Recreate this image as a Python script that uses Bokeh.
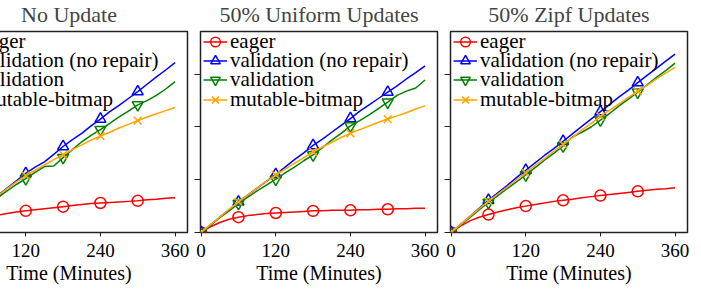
from bokeh.plotting import figure
from bokeh.layouts import row
from bokeh.models import Legend, LegendItem, FixedTicker, Range1d
from bokeh.embed import file_html
from bokeh.resources import INLINE

# ---------------- data ----------------
minutes = [0, 15, 30, 45, 60, 75, 90, 105, 120, 135, 150, 165, 180,
           195, 210, 225, 240, 255, 270, 285, 300, 315, 330, 345, 360]
marker_minutes = [0, 60, 120, 180, 240, 300]

titles = ["No Update", "50% Uniform Updates", "50% Zipf Updates"]
series_names = ["eager", "validation (no repair)", "validation", "mutable-bitmap"]

# No Update
nu_eager = [0, 0.08, 0.15, 0.21, 0.29, 0.33, 0.36, 0.39, 0.41, 0.43, 0.45, 0.47, 0.49,
            0.51, 0.53, 0.55, 0.56, 0.57, 0.58, 0.59, 0.60, 0.62, 0.63, 0.65, 0.66]
nu_valid_norepair = [0, 0.14, 0.28, 0.42, 0.56, 0.70, 0.84, 0.98, 1.12, 1.24, 1.34, 1.48, 1.63,
                     1.76, 1.88, 2.02, 2.15, 2.29, 2.41, 2.54, 2.67, 2.81, 2.95, 3.08, 3.22]
nu_valid = [0, 0.13, 0.26, 0.39, 0.52, 0.66, 0.79, 0.91, 1.02, 1.14, 1.25, 1.26, 1.42,
            1.57, 1.72, 1.84, 1.95, 2.07, 2.19, 2.30, 2.42, 2.50, 2.60, 2.72, 2.86]
nu_bitmap = [0, 0.15, 0.29, 0.43, 0.57, 0.70, 0.83, 0.96, 1.08, 1.18, 1.28, 1.38, 1.47,
             1.57, 1.66, 1.75, 1.83, 1.90, 1.98, 2.05, 2.12, 2.19, 2.25, 2.31, 2.37]

# 50% Uniform Updates
un_eager = [0, 0.11, 0.19, 0.25, 0.29, 0.32, 0.34, 0.36, 0.37, 0.38, 0.39, 0.40, 0.41,
            0.41, 0.42, 0.42, 0.42, 0.43, 0.43, 0.44, 0.44, 0.45, 0.45, 0.46, 0.46]
un_valid_norepair = [0, 0.14, 0.29, 0.43, 0.58, 0.71, 0.84, 0.97, 1.10, 1.24, 1.38, 1.51, 1.65,
                     1.77, 1.90, 2.03, 2.16, 2.30, 2.42, 2.54, 2.66, 2.78, 2.91, 3.03, 3.16]
un_valid = [0, 0.14, 0.28, 0.41, 0.55, 0.67, 0.79, 0.90, 1.01, 1.13, 1.24, 1.36, 1.47,
            1.61, 1.75, 1.88, 2.02, 2.12, 2.23, 2.35, 2.47, 2.60, 2.68, 2.74, 2.89]
un_bitmap = [0, 0.15, 0.29, 0.44, 0.58, 0.71, 0.84, 0.97, 1.09, 1.20, 1.31, 1.42, 1.53,
             1.62, 1.71, 1.80, 1.88, 1.95, 2.02, 2.09, 2.15, 2.21, 2.27, 2.34, 2.40]

# 50% Zipf Updates
zf_eager = [0, 0.12, 0.22, 0.29, 0.34, 0.39, 0.43, 0.47, 0.50, 0.53, 0.56, 0.59, 0.61,
            0.63, 0.66, 0.68, 0.70, 0.72, 0.74, 0.76, 0.78, 0.80, 0.82, 0.83, 0.85]
zf_valid_norepair = [0, 0.15, 0.30, 0.46, 0.61, 0.75, 0.89, 1.04, 1.18, 1.32, 1.46, 1.59, 1.73,
                     1.87, 2.01, 2.15, 2.29, 2.43, 2.57, 2.70, 2.84, 2.98, 3.11, 3.25, 3.38]
zf_valid = [0, 0.14, 0.28, 0.43, 0.57, 0.70, 0.83, 0.96, 1.09, 1.23, 1.37, 1.50, 1.64,
            1.81, 1.90, 2.00, 2.13, 2.26, 2.40, 2.53, 2.66, 2.80, 2.94, 3.07, 3.21]
zf_bitmap = [0, 0.15, 0.30, 0.45, 0.59, 0.73, 0.86, 1.00, 1.13, 1.27, 1.40, 1.54, 1.67,
             1.80, 1.94, 2.07, 2.20, 2.32, 2.44, 2.56, 2.68, 2.79, 2.91, 3.02, 3.13]

x_ticks = [0, 120, 240, 360]
y_ticks = [0, 1, 2, 3]

panels = [
    [nu_eager, nu_valid_norepair, nu_valid, nu_bitmap],
    [un_eager, un_valid_norepair, un_valid, un_bitmap],
    [zf_eager, zf_valid_norepair, zf_valid, zf_bitmap],
]

# ---------------- style ----------------
colors = ["#ff0000", "#0000ff", "#008000", "#ffa500"]
markers = ["circle", "triangle", "inverted_triangle", "x"]
FONT = "Liberation Serif"
FRAME_H = 201
ROW_PITCH = 19.4
ROW_FIRST = 10
LEG_H = 25

figs = []
borders_right = [3, 3, 5]
for i, (title, data) in enumerate(zip(titles, panels)):
    p = figure(output_backend="svg", toolbar_location=None,
               frame_width=237, frame_height=FRAME_H,
               x_range=Range1d(-1, 380), y_range=Range1d(0, 3.81),
               min_border_left=10, min_border_right=borders_right[i],
               min_border_top=0, min_border_bottom=0,
               title=title)
    p.title.text_font = FONT
    p.title.text_font_size = "22px"
    p.title.text_font_style = "normal"
    p.title.align = "center"
    p.title.standoff = 10

    p.grid.visible = False
    p.outline_line_color = "#222222"
    p.outline_line_width = 1.5
    p.background_fill_color = "white"
    p.border_fill_color = "white"

    p.xaxis.ticker = FixedTicker(ticks=x_ticks)
    p.xaxis.minor_tick_line_color = None
    p.xaxis.major_tick_in = 0
    p.xaxis.major_tick_out = 4
    p.xaxis.major_tick_line_color = "#222222"
    p.xaxis.axis_line_color = None
    p.xaxis.major_label_text_font = FONT
    p.xaxis.major_label_text_font_size = "19px"
    p.xaxis.major_label_text_color = "black"
    p.xaxis.major_label_standoff = 7
    p.xaxis.axis_label = "Time (Minutes)"
    p.xaxis.axis_label_text_font = FONT
    p.xaxis.axis_label_text_font_size = "20px"
    p.xaxis.axis_label_text_font_style = "normal"
    p.xaxis.axis_label_text_color = "black"
    p.xaxis.axis_label_standoff = 2

    p.yaxis.ticker = FixedTicker(ticks=y_ticks)
    p.yaxis.minor_tick_line_color = None
    p.yaxis.major_tick_in = 0
    p.yaxis.major_tick_out = 6
    p.yaxis.major_tick_line_color = "#222222"
    p.yaxis.axis_line_color = None
    p.yaxis.major_label_overrides = {t: "" for t in y_ticks}
    p.yaxis.major_label_standoff = 0

    for k, (name, vals, c, m) in enumerate(zip(series_names, data, colors, markers)):
        lr = p.line(minutes, vals, line_color=c, line_width=1.5)
        mx = [t for t in minutes if t in marker_minutes]
        my = [v for t, v in zip(minutes, vals) if t in marker_minutes]
        sr = p.scatter(mx, my, marker=m, size=11, line_color=c, line_width=1.5,
                       fill_color=None)
        row_center = ROW_FIRST + ROW_PITCH * k
        leg = Legend(items=[LegendItem(label=name, renderers=[lr, sr])],
                     location=(3, FRAME_H - row_center - LEG_H / 2),
                     label_text_font=FONT, label_text_font_size="21px",
                     label_text_color="black",
                     background_fill_alpha=0, border_line_color=None,
                     margin=0, padding=0, spacing=0,
                     glyph_width=24, glyph_height=LEG_H, label_height=19,
                     label_standoff=3)
        p.add_layout(leg)
    figs.append(p)

layout = row(*figs, styles={"margin-left": "-60px", "margin-top": "-6px"})

open("out.html", "w").write(file_html(layout, INLINE))
